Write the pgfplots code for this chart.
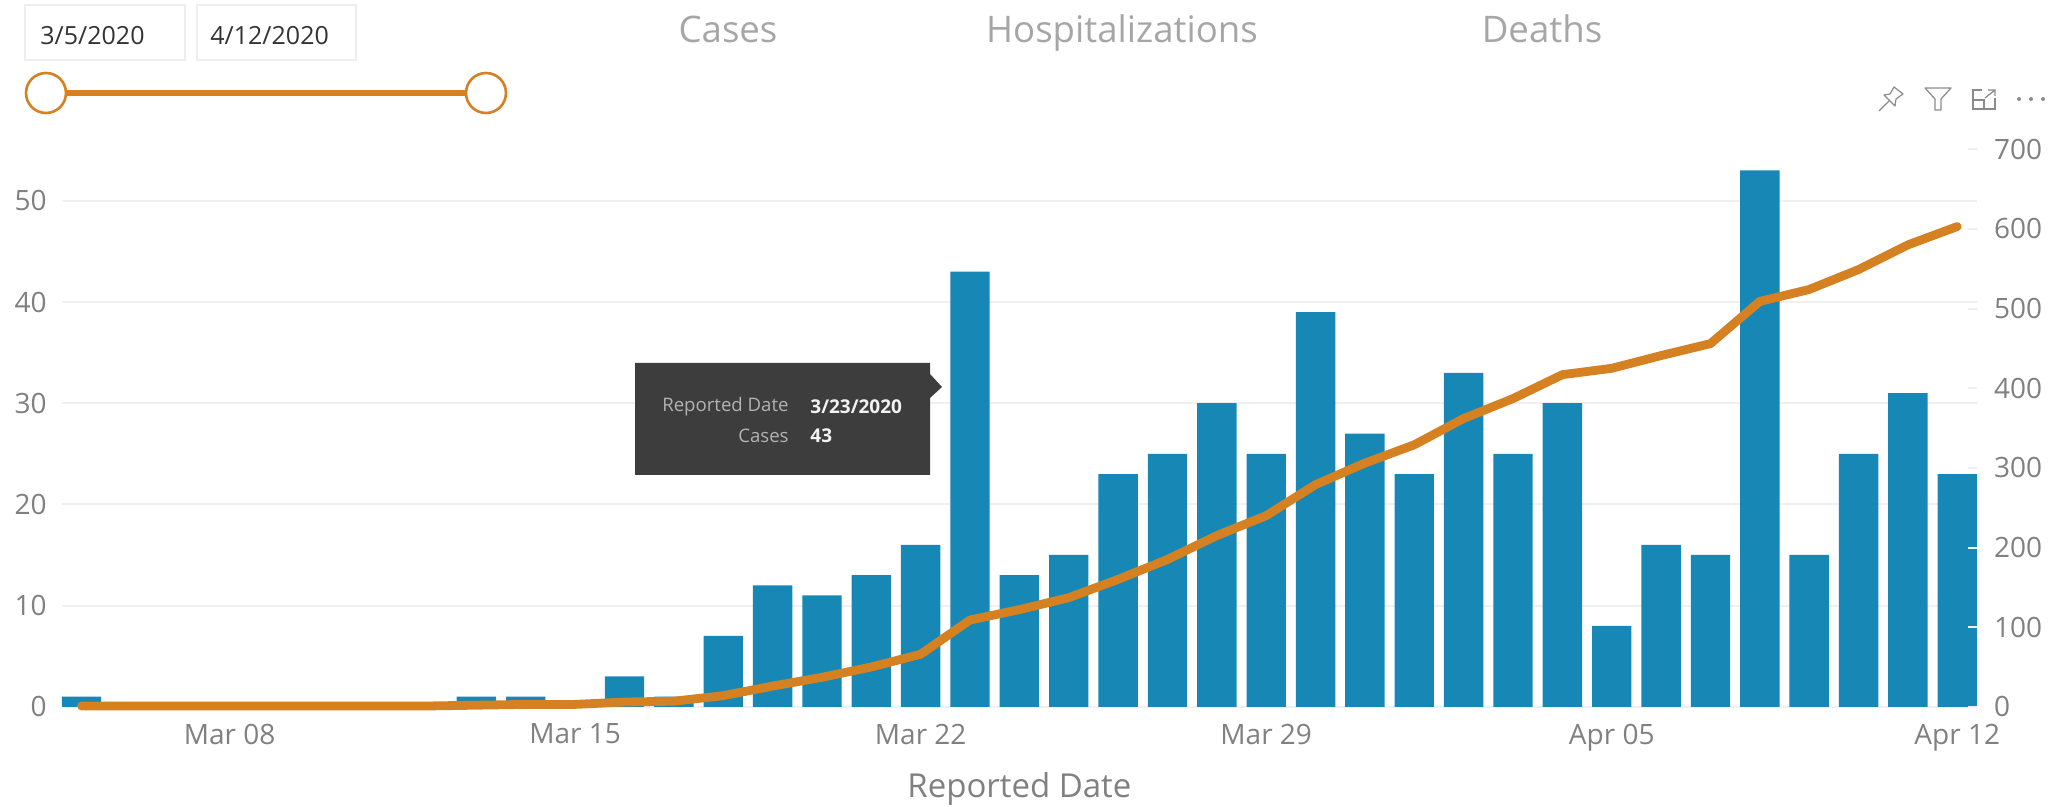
\documentclass[border=0pt]{standalone}
\usepackage{fontspec}
\setmainfont{Open Sans}
\usepackage{pgfplots}
\usepackage{pgfplotstable}
\pgfplotsset{compat=1.18}
\definecolor{barblue}{HTML}{1787B5}
\definecolor{lineorange}{HTML}{D58021}
\definecolor{axtext}{HTML}{808080}
\definecolor{tabtext}{HTML}{A6A6A6}
\definecolor{gridc}{HTML}{F0F0F0}
\definecolor{boxc}{HTML}{EEEEEE}
\definecolor{tipc}{HTML}{3D3D3D}
\definecolor{icon}{HTML}{8A8A8A}
\pgfplotstableread{
d cases total
0 1 1
1 0 1
2 0 1
3 0 1
4 0 1
5 0 1
6 0 1
7 0 1
8 1 2
9 1 3
10 0 3
11 3 6
12 1 7
13 7 14
14 12 26
15 11 37
16 13 50
17 16 66
18 43 109
19 13 122
20 15 137
21 23 160
22 25 185
23 30 215
24 25 240
25 39 279
26 27 306
27 23 329
28 33 362
29 25 387
30 30 417
31 8 425
32 16 441
33 15 456
34 53 509
35 15 524
36 25 549
37 31 580
38 23 603
}\datatable
\pgfplotsset{common/.style={
  at={(30.9pt,50.1pt)},anchor=south west,
  scale only axis,width=957.6pt,height=278.75pt,
  xmin=-0.4,xmax=38.4,
  /pgf/number format/assume math mode=true,
  tick label style={font=\fontsize{14}{16}\selectfont,text=axtext},
}}
\begin{document}
\begin{tikzpicture}
\path[use as bounding box] (0,0) rectangle (1030.5pt,403.5pt);
\begin{axis}[common,
  ymin=0,ymax=55.09,
  axis line style={draw=none},
  major tick length=0pt,
  xtick={3,10,17,24,31,38},
  xticklabels={Mar 08,Mar 15,Mar 22,Mar 29,Apr 05,Apr 12},
  ytick={0,10,20,30,40,50},
  yticklabel style={xshift=-4pt},
  xticklabel style={yshift=-5pt},
  ymajorgrids,
  grid style={gridc,line width=1pt},
  xlabel={Reported Date},
  xlabel style={font=\fontsize{16.5}{19}\selectfont,text=axtext,yshift=-4pt},
]
\addplot[ybar,bar width=19.7pt,fill=barblue,draw=none,bar shift=0pt] table[x=d,y=cases]{\datatable};
\end{axis}
\begin{axis}[common,
  ymin=0,ymax=700,
  axis y line*=right,
  axis x line=none,
  y axis line style={draw=none},
  ytick={0,100,200,300,400,500,600,700},
  ytick style={gridc,line width=1pt},
  major tick length=4.5pt,
  tick align=inside,
  yticklabel style={xshift=5pt},
  clip=false,
]
\addplot[lineorange,line width=4.4pt,line cap=round,line join=round] table[x=d,y=total]{\datatable};
\end{axis}
\begin{scope}[shift={(0pt,403.5pt)},x=0.5pt,y=-0.5pt]
  % date boxes
  \draw[boxc,line width=1pt] (25,5) rectangle (185,60);
  \draw[boxc,line width=1pt] (197,5) rectangle (356,60);
  \node[anchor=west,inner sep=0pt,text=black!80,font=\fontsize{12.5}{15}\selectfont] at (40,36) {3/5/2020};
  \node[anchor=west,inner sep=0pt,text=black!80,font=\fontsize{12.5}{15}\selectfont] at (210,36) {4/12/2020};
  % slider
  \draw[lineorange,line width=3pt] (46,93) -- (486,93);
  \draw[lineorange,line width=1.3pt,fill=white] (46,93) circle (20);
  \draw[lineorange,line width=1.3pt,fill=white] (486,93) circle (20);
  % tabs
  \node[anchor=base,text=tabtext,inner sep=0pt,font=\fontsize{18.3}{22}\selectfont] at (728,43) {Cases};
  \node[anchor=base,text=tabtext,inner sep=0pt,font=\fontsize{18.3}{22}\selectfont] at (1122,43) {Hospitalizations};
  \node[anchor=base,text=tabtext,inner sep=0pt,font=\fontsize{18.3}{22}\selectfont] at (1542,43) {Deaths};
  % icons
  \draw[icon,line width=0.6pt,line join=round] (1879,111) -- (1889,101);
  \draw[icon,line width=0.6pt,line join=round] (1884,95) -- (1895,106) -- (1896,99) -- (1903,94) -- (1894,87) -- (1890,94) -- cycle;
  \draw[icon,line width=0.6pt,line join=round] (1925,88) -- (1951,88) -- (1941,99) -- (1941,110) -- (1935,110) -- (1935,99) -- cycle;
  \draw[icon,line width=0.6pt] (1982,90) -- (1973,90) -- (1973,109) -- (1995,109) -- (1995,98);
  \draw[icon,line width=0.6pt] (1973,100) -- (1984,100) -- (1984,109);
  \draw[icon,line width=0.6pt] (1985,98) -- (1995,90) (1988,90) -- (1995,90) -- (1995,96);
  \fill[icon] (2019,99) circle (2) (2031,99) circle (2) (2043,99) circle (2);
  % tooltip
  \fill[tipc] (635,363) -- (930,363) -- (930,374) -- (942,387) -- (930,398) -- (930,475) -- (635,475) -- cycle;
  \node[anchor=east,inner sep=0pt,text=black!30,font=\fontsize{9.3}{11}\selectfont] at (789,407) {Reported Date};
  \node[anchor=east,inner sep=0pt,text=black!30,font=\fontsize{9.3}{11}\selectfont] at (789,436) {Cases};
  \node[anchor=west,inner sep=0pt,text=white!95!black,font=\fontsize{9.5}{11}\selectfont\bfseries] at (810,407) {3/23/2020};
  \node[anchor=west,inner sep=0pt,text=white!95!black,font=\fontsize{9.5}{11}\selectfont\bfseries] at (810,436) {43};
\end{scope}
\end{tikzpicture}
\end{document}
